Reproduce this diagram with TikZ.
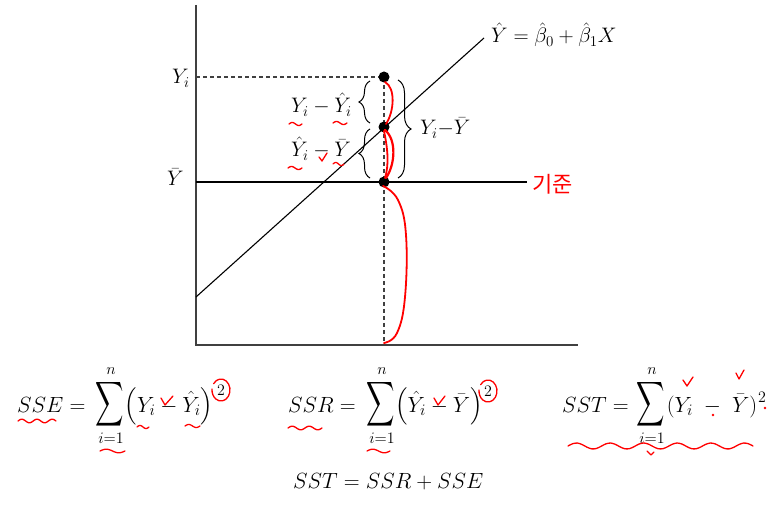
\RequirePackage{fix-cm}
\documentclass[tikz,border=0pt]{standalone}
\usepackage{amsmath}
\usepackage{graphicx}
\usepackage{fontspec}
\newfontfamily\krfont{Noto Sans CJK KR}
\DeclareMathSizes{21}{21}{15}{11}
\DeclareMathSizes{22}{22}{16}{12}
\DeclareMathSizes{16}{16}{12}{9}
\usetikzlibrary{decorations.pathreplacing}
% red hand-drawn wave: x1, x2, y, periods, amplitude
\newcommand\rwave[5]{\draw[ann, line width=1.3pt] plot[domain=0:1, samples=40, smooth] ({#1+(#2-#1)*\x}, {#3-#5*sin(360*#4*\x)});}
\begin{document}
\begin{tikzpicture}[x=1pt,y=-1pt,
  axis/.style={line width=1.4pt, draw=black!75},
  regl/.style={line width=1.1pt, draw=black},
  guide/.style={line width=1.3pt, draw=black!75, dash pattern=on 4pt off 3pt},
  dot/.style={circle, fill=black, inner sep=0pt, minimum size=11pt},
  lbl/.style={inner sep=0pt, font=\fontsize{21}{25}\selectfont},
  fml/.style={inner sep=0pt, font=\fontsize{22}{26}\selectfont},
  lim/.style={inner sep=0pt, font=\fontsize{16}{18}\selectfont},
  sumsign/.style={inner sep=0pt, font=\fontsize{22}{26}\selectfont},
  ann/.style={draw=red, line width=1.8pt, line cap=round, line join=round},
  brc/.style={line width=1pt, decorate, decoration={brace, amplitude=#1}}]
\useasboundingbox (0,0) rectangle (780,508);

% axes and lines
\coordinate (ytop) at (196,5);
\coordinate (O) at (196,345);
\coordinate (xend) at (578,345);
\draw[axis] (ytop) -- (O) -- (xend);
\coordinate (ybL) at (196,182);
\coordinate (ybR) at (527,182);
\draw[regl] (ybL) -- (ybR);
\coordinate (rA) at (196,297);
\coordinate (rB) at (484,38);
\draw[regl] (rA) -- (rB);
\coordinate (Pax) at (196,77);
\coordinate (Rax) at (384,345);
\coordinate (Pc) at (384,77);
\draw[guide] (Pax) -- (Pc) -- (Rax);

% braces
\draw[brc=11pt] (370,123) -- (370,81);
\draw[brc=11pt] (370,178) -- (370,129);
\draw[brc=13pt] (398,80) -- (398,178);

% dots
\node[dot] (P) at (384,77) {};
\node[dot] (Q) at (384,127) {};
\node[dot] (R) at (384,182) {};

% labels
\node[lbl, anchor=base west] (lYi) at (172,84) {$Y_i$};
\node[lbl, anchor=base west] (lYb) at (167,186) {$\bar{Y}$};
\node[lbl, anchor=base west] (lreg) at (491,43) {$\hat{Y} = \hat{\beta}_0 + \hat{\beta}_1 X$};
\node[lbl, anchor=base west] (lres) at (291,113) {$Y_i - \hat{Y}_i$};
\node[lbl, anchor=base west] (lexp) at (291,157) {$\hat{Y}_i - \bar{Y}$};
\node[lbl, anchor=base west] (ltot) at (420,135) {$Y_i{-}\bar{Y}$};
\node[anchor=base west, inner sep=0pt, text=red, font=\krfont\fontsize{22}{26}\selectfont] (kijun) at (532,193) {기준};

% formula SSE
\node[fml, anchor=base west] (sseL) at (17,412) {$SSE =$};
\node[sumsign] (sseS) at (110,404) {\scalebox{0.95}[1.5]{$\displaystyle\sum$}};
\node[lim] (sseN) at (111,371) {$n$};
\node[lim] (sseI) at (111,438) {$i{=}1$};
\node[fml, anchor=base] (sseP) at (169,412) {$\Bigl(Y_i - \hat{Y}_i\Bigr)$};
\node[lim] (sseE) at (221,390) {$2$};
% formula SSR
\node[fml, anchor=base west] (ssrL) at (288,412) {$SSR =$};
\node[sumsign] (ssrS) at (381,404) {\scalebox{0.95}[1.5]{$\displaystyle\sum$}};
\node[lim] (ssrN) at (382,371) {$n$};
\node[lim] (ssrI) at (382,438) {$i{=}1$};
\node[fml, anchor=base] (ssrP) at (439,412) {$\Bigl(\hat{Y}_i - \bar{Y}\Bigr)$};
\node[lim] (ssrE) at (488,391) {$2$};
% formula SST
\node[fml, anchor=base west] (sstL) at (562,412) {$SST =$};
\node[sumsign] (sstS) at (651,404) {\scalebox{0.95}[1.5]{$\displaystyle\sum$}};
\node[lim] (sstN) at (652,371) {$n$};
\node[lim] (sstI) at (652,438) {$i{=}1$};
\node[fml, anchor=base] (sstP) at (712,412) {$(Y_i \;-\; \bar{Y})$};
\node[lim] (sstE) at (762,397) {$2$};
% bottom identity
\node[fml, anchor=base west] (tot) at (293,488) {$SST = SSR + SSE$};

% red annotations in the plot
\draw[ann] (385,82) .. controls (396,88) and (394,112) .. (386,124);
\draw[ann, line width=2.2pt] (385,130) .. controls (397,140) and (395,165) .. (386,178);
\draw[ann] (384,131) .. controls (388,150) and (389,165) .. (385,178);
\draw[ann] plot[smooth, tension=0.7] coordinates {(383,186) (398,200) (406,235) (405,297) (397,333) (384,343)};
\rwave{289}{302}{124}{1}{1.5}
\rwave{333}{347}{123}{1}{1.5}
\rwave{288}{302}{168}{1}{1.5}
\rwave{333}{344}{164}{1}{1.5}
\draw[ann, line width=1.3pt] (319,157) -- (322,161) -- (327,153);

% red annotations on formulas
\rwave{18}{56}{421}{2.5}{1.8}
\rwave{100}{125}{451}{1}{1.8}
\rwave{137}{149}{427}{1}{1.5}
\rwave{185}{200}{426}{1}{1.5}
\draw[ann, line width=1.3pt] (161,398) -- (165,405) -- (173,396);
\draw[ann, line width=1.3pt] (sseE.center) ++(215:9 and 11) arc[start angle=215, end angle=545, x radius=9, y radius=11];
\rwave{288}{322}{428}{2}{1.8}
\rwave{367}{390}{451}{1}{1.8}
\draw[ann, line width=1.3pt] (434,398) -- (438,405) -- (445,396);
\draw[ann, line width=1.3pt] (ssrE.center) ++(215:9 and 11) arc[start angle=215, end angle=545, x radius=9, y radius=11];
\draw[ann, line width=1.3pt] (683,380) -- (687,386) -- (693,377);
\draw[ann, line width=1.3pt] (736,373) -- (739,379) -- (744,370);
\fill[red] (713,415) circle (1.3);
\fill[red] (765,408) circle (1.3);
\rwave{568}{753}{446}{5.5}{3}
\draw[ann, line width=1.3pt] (647,451) -- (651,455) -- (654,452);
\end{tikzpicture}
\end{document}
